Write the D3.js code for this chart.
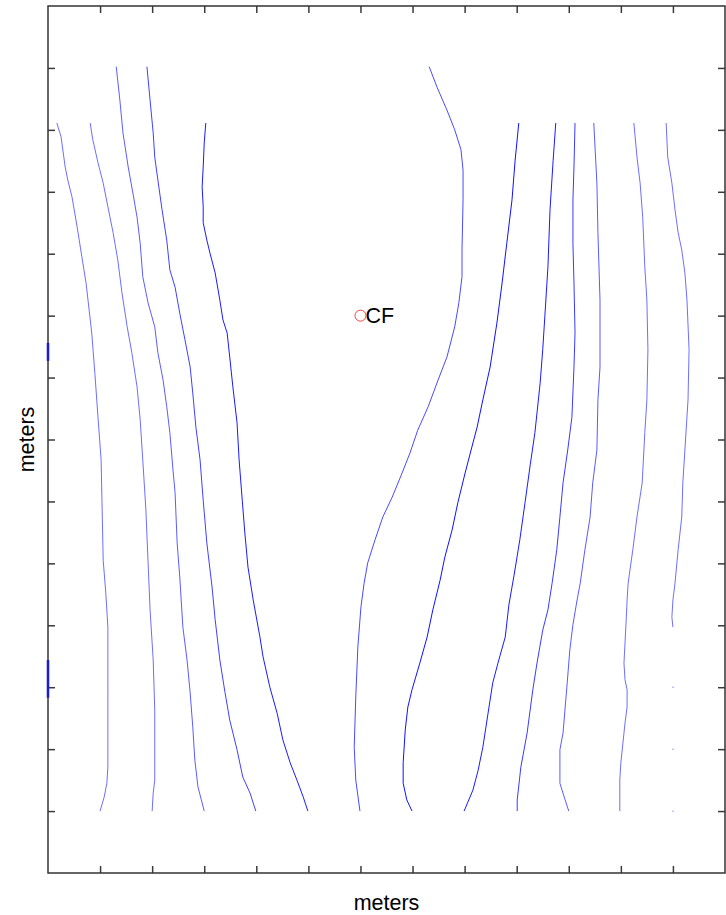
<!DOCTYPE html>
<html>
<head>
<meta charset="utf-8">
<script src="https://cdn.jsdelivr.net/npm/d3@7"></script>
<style>
	html, body { margin: 0; padding: 0; background: #fff; }
	svg { display: block; font-family: "Liberation Sans", Arial, sans-serif; }
</style>
</head>
<body>
<div id="chart"></div>
<script>
// grid ticks (meters), no labels shown
const xTicks = d3.range(1, 13);
const yTicks = d3.range(1, 14);

// contour lines, left to right, [x, y] in meters
const contour1 = [[0.17,12.11],[0.25,11.89],[0.33,11.40],[0.38,11.19],[0.46,10.92],[0.56,10.43],[0.65,9.95],[0.73,9.53],[0.79,9.09],[0.84,8.72],[0.90,8.07],[0.96,7.36],[1.02,6.67],[1.04,5.86],[1.06,5.05],[1.11,4.52],[1.15,3.97],[1.15,2.91],[1.15,1.71],[1.13,1.45],[1.08,1.23],[1.00,1.00]];
const contour2 = [[0.81,12.11],[0.86,11.84],[0.96,11.47],[1.06,11.14],[1.15,10.76],[1.25,10.34],[1.34,9.90],[1.42,9.37],[1.52,8.82],[1.61,8.40],[1.71,7.85],[1.77,7.32],[1.82,6.67],[1.88,5.86],[1.92,5.05],[1.96,4.25],[2.02,3.44],[2.05,2.63],[2.05,1.50],[2.02,1.29],[2.00,1.00]];
const contour3 = [[1.31,13.02],[1.38,12.48],[1.44,11.95],[1.54,11.40],[1.63,10.98],[1.71,10.59],[1.77,10.17],[1.82,9.63],[1.92,9.21],[2.05,8.82],[2.11,8.40],[2.21,7.96],[2.28,7.53],[2.34,7.11],[2.40,6.51],[2.44,6.14],[2.48,5.33],[2.53,4.78],[2.59,3.97],[2.67,3.44],[2.73,2.91],[2.78,2.36],[2.82,1.82],[2.88,1.39],[3.00,1.00]];
const contour4 = [[1.90,13.02],[1.96,12.48],[2.02,11.95],[2.05,11.56],[2.11,11.19],[2.19,10.71],[2.28,10.22],[2.34,9.74],[2.44,9.46],[2.53,9.04],[2.63,8.61],[2.73,8.17],[2.78,7.75],[2.84,7.20],[2.92,6.67],[2.98,6.02],[3.05,5.33],[3.15,4.62],[3.21,4.09],[3.30,3.44],[3.40,2.91],[3.49,2.47],[3.63,1.99],[3.74,1.55],[3.88,1.29],[3.99,1.00]];
const contour5 = [[3.03,12.11],[3.00,11.79],[2.98,11.40],[2.96,11.08],[2.98,10.76],[2.98,10.50],[3.05,10.22],[3.11,10.01],[3.21,9.69],[3.30,9.25],[3.36,8.93],[3.44,8.72],[3.49,8.33],[3.55,7.85],[3.63,7.27],[3.67,6.67],[3.73,6.02],[3.78,5.49],[3.84,4.94],[3.94,4.41],[4.07,3.81],[4.13,3.49],[4.26,3.00],[4.40,2.58],[4.51,2.15],[4.65,1.78],[4.78,1.50],[4.90,1.23],[4.99,1.00]];
const contour6 = [[7.32,13.02],[7.47,12.69],[7.66,12.32],[7.81,12.00],[7.93,11.68],[7.97,11.35],[7.97,10.87],[7.95,10.06],[7.95,9.63],[7.89,9.21],[7.81,8.82],[7.66,8.33],[7.49,7.96],[7.30,7.53],[7.10,7.15],[6.95,6.78],[6.80,6.46],[6.61,6.07],[6.43,5.75],[6.28,5.38],[6.14,5.01],[6.07,4.68],[6.01,4.30],[5.95,3.65],[5.91,2.84],[5.88,2.03],[5.91,1.50],[5.99,1.00]];
const contour7 = [[9.04,12.11],[8.97,11.51],[8.91,10.87],[8.81,10.17],[8.72,9.53],[8.62,8.88],[8.49,8.17],[8.35,7.64],[8.24,7.20],[8.14,6.88],[8.01,6.46],[7.87,5.98],[7.76,5.54],[7.62,5.10],[7.53,4.73],[7.39,4.25],[7.28,3.81],[7.14,3.39],[6.99,2.96],[6.91,2.68],[6.86,2.31],[6.82,1.78],[6.82,1.45],[6.89,1.18],[6.99,1.00]];
const contour8 = [[9.75,12.11],[9.70,11.51],[9.64,10.71],[9.60,9.79],[9.54,8.98],[9.50,8.45],[9.45,7.91],[9.35,7.11],[9.26,6.59],[9.16,5.98],[9.06,5.38],[8.95,4.81],[8.85,4.33],[8.78,3.81],[8.64,3.39],[8.54,3.07],[8.45,2.58],[8.35,2.03],[8.26,1.66],[8.16,1.34],[7.99,1.00]];
const contour9 = [[10.12,12.11],[10.10,11.40],[10.08,10.87],[10.08,10.17],[10.10,9.53],[10.12,8.72],[10.10,8.17],[10.06,7.36],[9.98,6.83],[9.89,6.30],[9.83,5.75],[9.77,5.22],[9.68,4.68],[9.60,4.25],[9.50,3.92],[9.39,3.39],[9.31,2.96],[9.20,2.26],[9.08,1.71],[9.01,1.18],[9.01,1.00]];
const contour10 = [[10.48,12.11],[10.54,11.14],[10.56,10.34],[10.60,9.25],[10.60,8.17],[10.56,7.64],[10.54,6.83],[10.46,6.30],[10.41,5.75],[10.31,5.22],[10.22,4.68],[10.16,4.41],[10.08,4.01],[10.02,3.60],[9.97,3.07],[9.89,2.26],[9.83,1.99],[9.83,1.45],[9.93,1.18],[10.00,1.00]];
const contour11 = [[11.25,12.11],[11.31,11.56],[11.37,11.14],[11.42,10.59],[11.46,9.79],[11.50,9.25],[11.52,8.45],[11.50,7.64],[11.46,7.11],[11.41,6.30],[11.31,5.75],[11.23,5.22],[11.14,4.68],[11.12,4.41],[11.10,4.04],[11.06,3.39],[11.08,3.12],[11.12,2.96],[11.12,2.68],[11.08,2.42],[11.04,2.10],[11.00,1.78],[10.98,1.50],[10.98,1.00]];
const contour12 = [[11.87,12.11],[11.90,11.56],[11.98,11.14],[12.04,10.71],[12.10,10.34],[12.17,10.06],[12.23,9.69],[12.27,9.25],[12.31,8.45],[12.29,7.64],[12.23,6.83],[12.19,6.30],[12.17,5.75],[12.10,5.22],[12.04,4.68],[12.00,4.41],[11.98,4.13],[12.00,3.97]];

// single-point contour bits and the short pieces sitting on the left edge
const contourDots = [[12, 3], [12, 2], [12, 1]];
const edgePieces = [[[0, 8.56], [0, 8.27]], [[0, 3.44], [0, 2.83]]];

// point of interest
const marker = { name: "CF", x: 6, y: 9 };

const contours = [contour1, contour2, contour3, contour4, contour5, contour6,
	contour7, contour8, contour9, contour10, contour11, contour12];
const contourColors = ["#6e6eff", "#6e6eff", "#5c5cff", "#4040ff", "#1a1aff", "#4a4aff",
	"#1010ff", "#1a1aff", "#3a3aff", "#5a5aff", "#6e6eff", "#6e6eff"];

const width = 726, height = 915;
const x = d3.scaleLinear([0, 13], [48, 725]);
const y = d3.scaleLinear([0, 14], [873, 6]);

const svg = d3.select("#chart").append("svg")
	.attr("width", width)
	.attr("height", height);

const line = d3.line().x(d => x(d[0])).y(d => y(d[1]));

// contours
svg.append("g")
	.selectAll("path")
	.data(contours)
	.join("path")
	.attr("d", line)
	.attr("fill", "none")
	.attr("stroke", (d, i) => contourColors[i])
	.attr("stroke-width", 1);

svg.append("g")
	.selectAll("rect")
	.data(contourDots)
	.join("rect")
	.attr("x", d => x(d[0]) - 0.5)
	.attr("y", d => y(d[1]) - 0.5)
	.attr("width", 1.2)
	.attr("height", 1.2)
	.attr("fill", "#8080ff");

// frame and inward ticks on all four sides
const tickLen = 7;
const axisStyle = g => {
	g.select(".domain").remove();
	g.selectAll(".tick line").attr("stroke", "#3a3a3a").attr("stroke-width", 1.5);
};

svg.append("g")
	.attr("transform", `translate(0,${y(0)})`)
	.call(d3.axisBottom(x).tickValues(xTicks).tickSize(-tickLen).tickFormat(""))
	.call(axisStyle);
svg.append("g")
	.attr("transform", `translate(0,${y(14)})`)
	.call(d3.axisTop(x).tickValues(xTicks).tickSize(-tickLen).tickFormat(""))
	.call(axisStyle);
svg.append("g")
	.attr("transform", `translate(${x(0)},0)`)
	.call(d3.axisLeft(y).tickValues(yTicks).tickSize(-tickLen).tickFormat(""))
	.call(axisStyle);
svg.append("g")
	.attr("transform", `translate(${x(13)},0)`)
	.call(d3.axisRight(y).tickValues(yTicks).tickSize(-tickLen).tickFormat(""))
	.call(axisStyle);

svg.append("rect")
	.attr("x", x(0))
	.attr("y", y(14))
	.attr("width", x(13) - x(0))
	.attr("height", y(0) - y(14))
	.attr("fill", "none")
	.attr("stroke", "#333")
	.attr("stroke-width", 1.5);

// contour pieces lying on the left frame
svg.append("g")
	.selectAll("path")
	.data(edgePieces)
	.join("path")
	.attr("d", line)
	.attr("stroke", "#1a1ad0")
	.attr("stroke-width", 2.5);

// CF marker
svg.append("circle")
	.attr("cx", x(marker.x))
	.attr("cy", y(marker.y))
	.attr("r", 5.5)
	.attr("fill", "none")
	.attr("stroke", "#ff3b3b")
	.attr("stroke-width", 1);

svg.append("text")
	.attr("x", x(marker.x) + 5)
	.attr("y", y(marker.y) + 7.5)
	.attr("font-size", 21.5)
	.attr("fill", "#000")
	.text(marker.name);

// axis titles
svg.append("text")
	.attr("x", (x(0) + x(13)) / 2)
	.attr("y", 910)
	.attr("text-anchor", "middle")
	.attr("font-size", 21.5)
	.text("meters");

svg.append("text")
	.attr("transform", `translate(34,${(y(0) + y(14)) / 2}) rotate(-90)`)
	.attr("text-anchor", "middle")
	.attr("font-size", 21.5)
	.text("meters");
</script>
</body>
</html>
